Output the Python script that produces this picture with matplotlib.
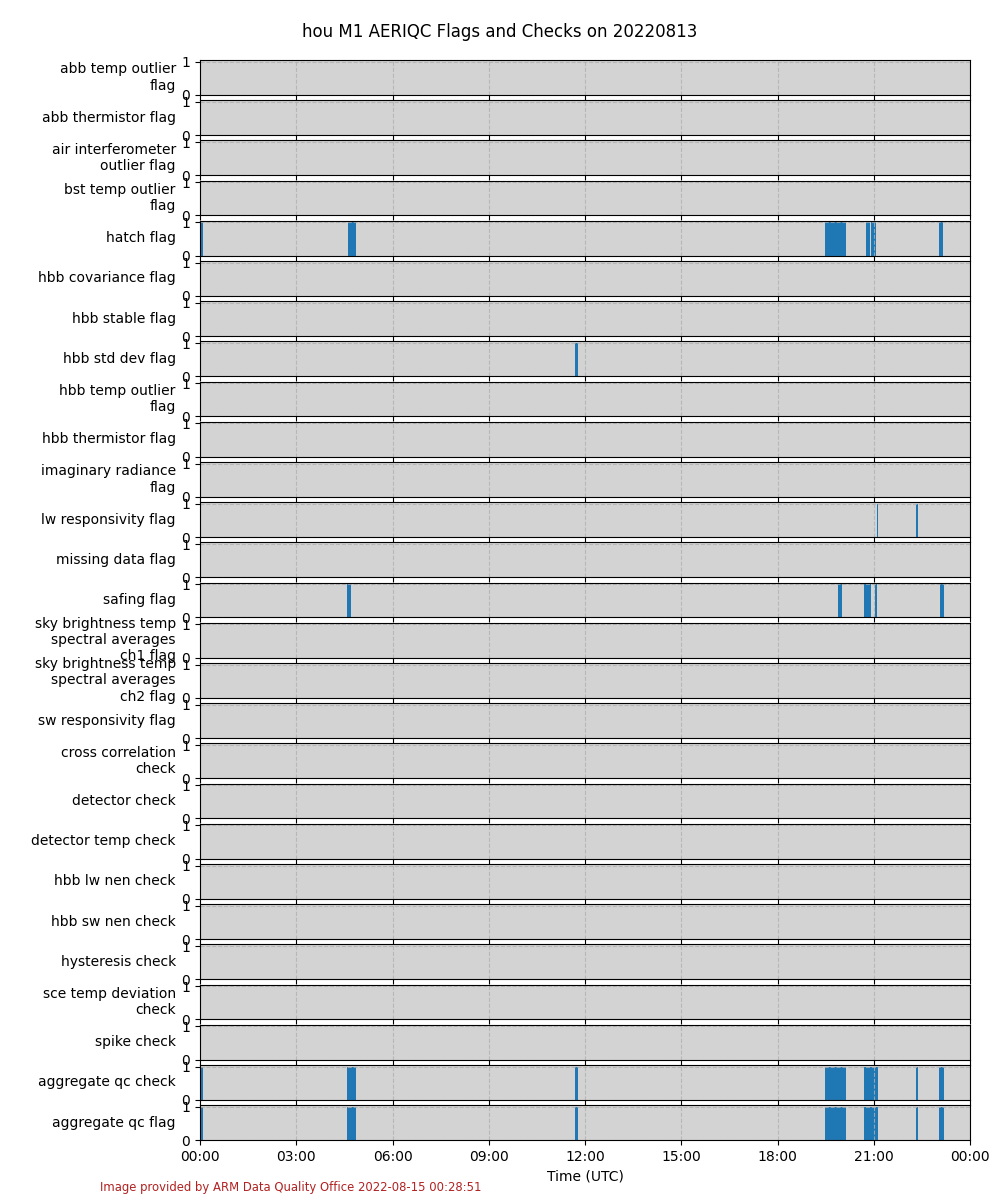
import textwrap
import numpy as np
import pandas as pd
import matplotlib
matplotlib.use("Agg")
import matplotlib.pyplot as plt
import matplotlib.dates as mdates

day = pd.Timestamp("2022-08-13")

variables = [
    "abb temp outlier flag", "abb thermistor flag", "air interferometer outlier flag",
    "bst temp outlier flag", "hatch flag", "hbb covariance flag", "hbb stable flag",
    "hbb std dev flag", "hbb temp outlier flag", "hbb thermistor flag",
    "imaginary radiance flag", "lw responsivity flag", "missing data flag", "safing flag",
    "sky brightness temp spectral averages ch1 flag",
    "sky brightness temp spectral averages ch2 flag", "sw responsivity flag",
    "cross correlation check", "detector check", "detector temp check",
    "hbb lw nen check", "hbb sw nen check", "hysteresis check",
    "sce temp deviation check", "spike check", "aggregate qc check", "aggregate qc flag",
]

# flagged periods, start/end in hours UTC
hatch_start = [0.02, 4.60, 19.48, 20.76, 20.91, 23.03]
hatch_end = [0.09, 4.85, 20.13, 20.88, 21.08, 23.16]
stddev_start = [11.69]
stddev_end = [11.77]
lwresp_start = [21.09, 22.32]
lwresp_end = [21.12, 22.38]
safing_start = [4.57, 19.89, 20.70, 21.04, 23.07]
safing_end = [4.70, 20.01, 20.91, 21.10, 23.19]
aggr_start = [0.02, 4.57, 11.69, 19.48, 20.70, 22.32, 23.03]
aggr_end = [0.09, 4.85, 11.77, 20.13, 21.12, 22.38, 23.19]

flagged = {
    "hatch flag": (hatch_start, hatch_end),
    "hbb std dev flag": (stddev_start, stddev_end),
    "lw responsivity flag": (lwresp_start, lwresp_end),
    "safing flag": (safing_start, safing_end),
    "aggregate qc check": (aggr_start, aggr_end),
    "aggregate qc flag": (aggr_start, aggr_end),
}

fig, axes = plt.subplots(len(variables), 1, figsize=(10, 12), dpi=100, sharex=True)
fig.subplots_adjust(left=0.2, right=0.97, top=0.95, bottom=0.05, hspace=0.155)

for ax, var in zip(axes, variables):
    ax.set_facecolor("lightgray")
    if var in flagged:
        st, en = flagged[var]
        st = np.array(st)
        en = np.array(en)
        t0 = [day + pd.Timedelta(hours=h) for h in st]
        w = (en - st) / 24.0
        ax.bar(mdates.date2num(t0), np.ones(len(st)), width=w, align="edge",
               color="tab:blue", zorder=1)
    ax.set_ylim(0, 1.05)
    ax.set_yticks([0, 1])
    ax.grid(True, linestyle="--", color="#b0b0b0", alpha=0.8, zorder=3)
    ax.set_axisbelow(False)
    for sp in ax.spines.values():
        sp.set_zorder(4)
    ax.set_ylabel(textwrap.fill(var.replace("_", " "), 20), rotation=0,
                  ha="right", va="center")

axes[-1].set_xlim(mdates.date2num(day), mdates.date2num(day + pd.Timedelta(days=1)))
axes[-1].xaxis.set_major_locator(mdates.HourLocator(interval=3))
axes[-1].xaxis.set_major_formatter(mdates.DateFormatter("%H:%M"))
axes[-1].set_xlabel("Time (UTC)")

fig.suptitle("hou M1 AERIQC Flags and Checks on 20220813", y=0.981, fontsize=12)
fig.text(0.1, 0.01, "Image provided by ARM Data Quality Office 2022-08-15 00:28:51",
         color="firebrick", fontsize=8.35, va="center")

fig.savefig("out.png")
